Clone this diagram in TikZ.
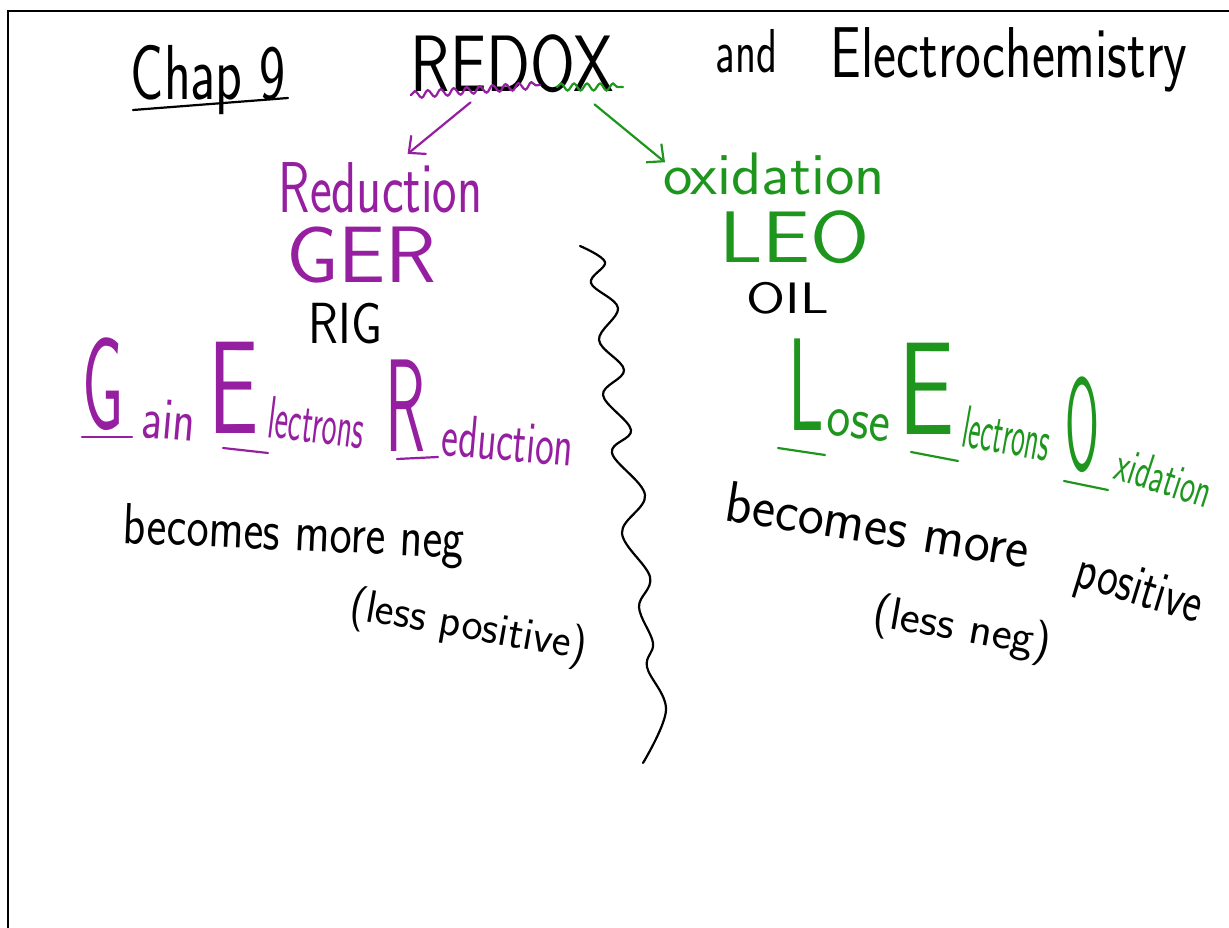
\documentclass[tikz,border=0pt]{standalone}
\usepackage{fontspec}
\usetikzlibrary{arrows.meta,decorations.pathmorphing}
\definecolor{penpurple}{RGB}{150,30,160}
\definecolor{pengreen}{RGB}{30,150,30}
\newcommand{\hwsize}[1]{\fontsize{#1}{#1}\selectfont}
\begin{document}
\begin{tikzpicture}[x=1pt, y=-1pt, line width=2.2pt, line cap=round,
        >={Straight Barb[length=13pt, width=24pt]},
        hw/.style={anchor=base west, inner sep=0pt, font=\sffamily},
        big/.style={hw, font=\sffamily\hwsize{132}},
        small/.style={hw, font=\sffamily\hwsize{60}},
        wave/.style={decorate, decoration={snake, amplitude=3.5pt, segment length=13pt}}
    ]
    \useasboundingbox (0,0) rectangle (1229,928);

    % page frame
    \draw[line width=2.8pt] (8,928) -- (8,11) -- (1229,11);

    % title
    \node[hw, font=\sffamily\hwsize{78}, xscale=0.71] (chap) at (130,100) {Chap 9};
    \draw (133,110) -- (288,98);
    \node[hw, font=\sffamily\hwsize{80}, xscale=0.81] (redox) at (410,92) {REDOX};
    \node[hw, font=\sffamily\hwsize{62}, xscale=0.7] (andw) at (715,73) {and};
    \node[hw, font=\sffamily\hwsize{72}, xscale=0.76] (electro) at (830,78) {Electrochemistry};
    \draw[penpurple, wave] (411,95) -- (540,85);
    \draw[pengreen, wave] (557,87) -- (623,87);

    % reduction side
    \node[hw, penpurple, font=\sffamily\hwsize{72}, xscale=0.72] (red) at (278,213) {Reduction};
    \node[hw, penpurple, font=\sffamily\hwsize{80}, xscale=1.05] (ger) at (285,283) {GER};
    \node[hw, font=\sffamily\hwsize{58}, xscale=0.85] (rig) at (308,343) {RIG};
    \draw[penpurple, ->] ([xshift=-42pt, yshift=-8pt]redox.south) -- ([xshift=27pt, yshift=8pt]red.north);

    % oxidation side
    \node[hw, pengreen, font=\sffamily\hwsize{60}, xscale=1.04] (ox) at (662,195) {oxidation};
    \node[hw, pengreen, font=\sffamily\hwsize{73}, xscale=1.17] (leo) at (718,262) {LEO};
    \node[hw, font=\sffamily\hwsize{44}, xscale=1.28] (oil) at (745,313) {OIL};
    \draw[pengreen, ->] ([xshift=82pt, yshift=-10pt]redox.south) -- ([xshift=3pt, yshift=-10pt]ox.north west);

    % dividing line
    \draw plot[smooth, tension=0.6] coordinates {(580,246) (605,262) (591,283) (618,308) (599,340)
        (624,370) (603,395) (631,430) (612,453) (645,495) (622,533) (650,577) (639,607)
        (653,643) (647,667) (666,710) (643,763)};

    % Gain Electrons Reduction
    \begin{scope}[penpurple]
        \node[big, xscale=0.5] (gainG) at (82,429) {G};
        \node[small, rotate=-5, xscale=0.77] (gainW) at (140,437) {ain};
        \node[big, xscale=0.68] (gainE) at (208,433) {E};
        \node[small, rotate=-7, xscale=0.53] (gainL) at (266,437) {lectrons};
        \node[big, xscale=0.5] (gainR) at (385,451) {R};
        \node[small, rotate=-5, xscale=0.66] (gainD) at (440,455) {eduction};
        \draw (82,437) -- (132,437);
        \draw (223,448) -- (268,453);
        \draw (397,459) -- (438,457);
    \end{scope}
    \node[hw, font=\sffamily\hwsize{58}, rotate=-2.5, xscale=0.81] (negw) at (122,543) {becomes more neg};
    \node[hw, font=\sffamily\hwsize{46}, rotate=-10, xscale=0.97] (lesspos) at (347,618) {(less positive)};

    % Lose Electrons Oxidation
    \begin{scope}[pengreen]
        \node[big, xscale=0.53] (loseL) at (788,430) {L};
        \node[small, rotate=-7, xscale=0.84] (loseW) at (825,434) {ose};
        \node[big, xscale=0.76] (loseE) at (898,434) {E};
        \node[small, rotate=-10, xscale=0.48] (loseLc) at (960,446) {lectrons};
        \node[big, xscale=0.37] (loseO) at (1065,470) {O};
        \node[hw, font=\sffamily\hwsize{50}, rotate=-18, xscale=0.63] (loseX) at (1112,478) {xidation};
        \draw (778,448) -- (825,455);
        \draw (911,452) -- (958,461);
        \draw (1064,481) -- (1108,490);
    \end{scope}
    \node[hw, font=\sffamily\hwsize{58}, rotate=-9, xscale=0.95] (morew) at (722,520) {becomes more};
    \node[hw, font=\sffamily\hwsize{58}, rotate=-17, xscale=0.75] (posw) at (1072,585) {positive};
    \node[hw, font=\sffamily\hwsize{46}, rotate=-10, xscale=1.04] (lessneg) at (870,625) {(less neg)};
\end{tikzpicture}
\end{document}
